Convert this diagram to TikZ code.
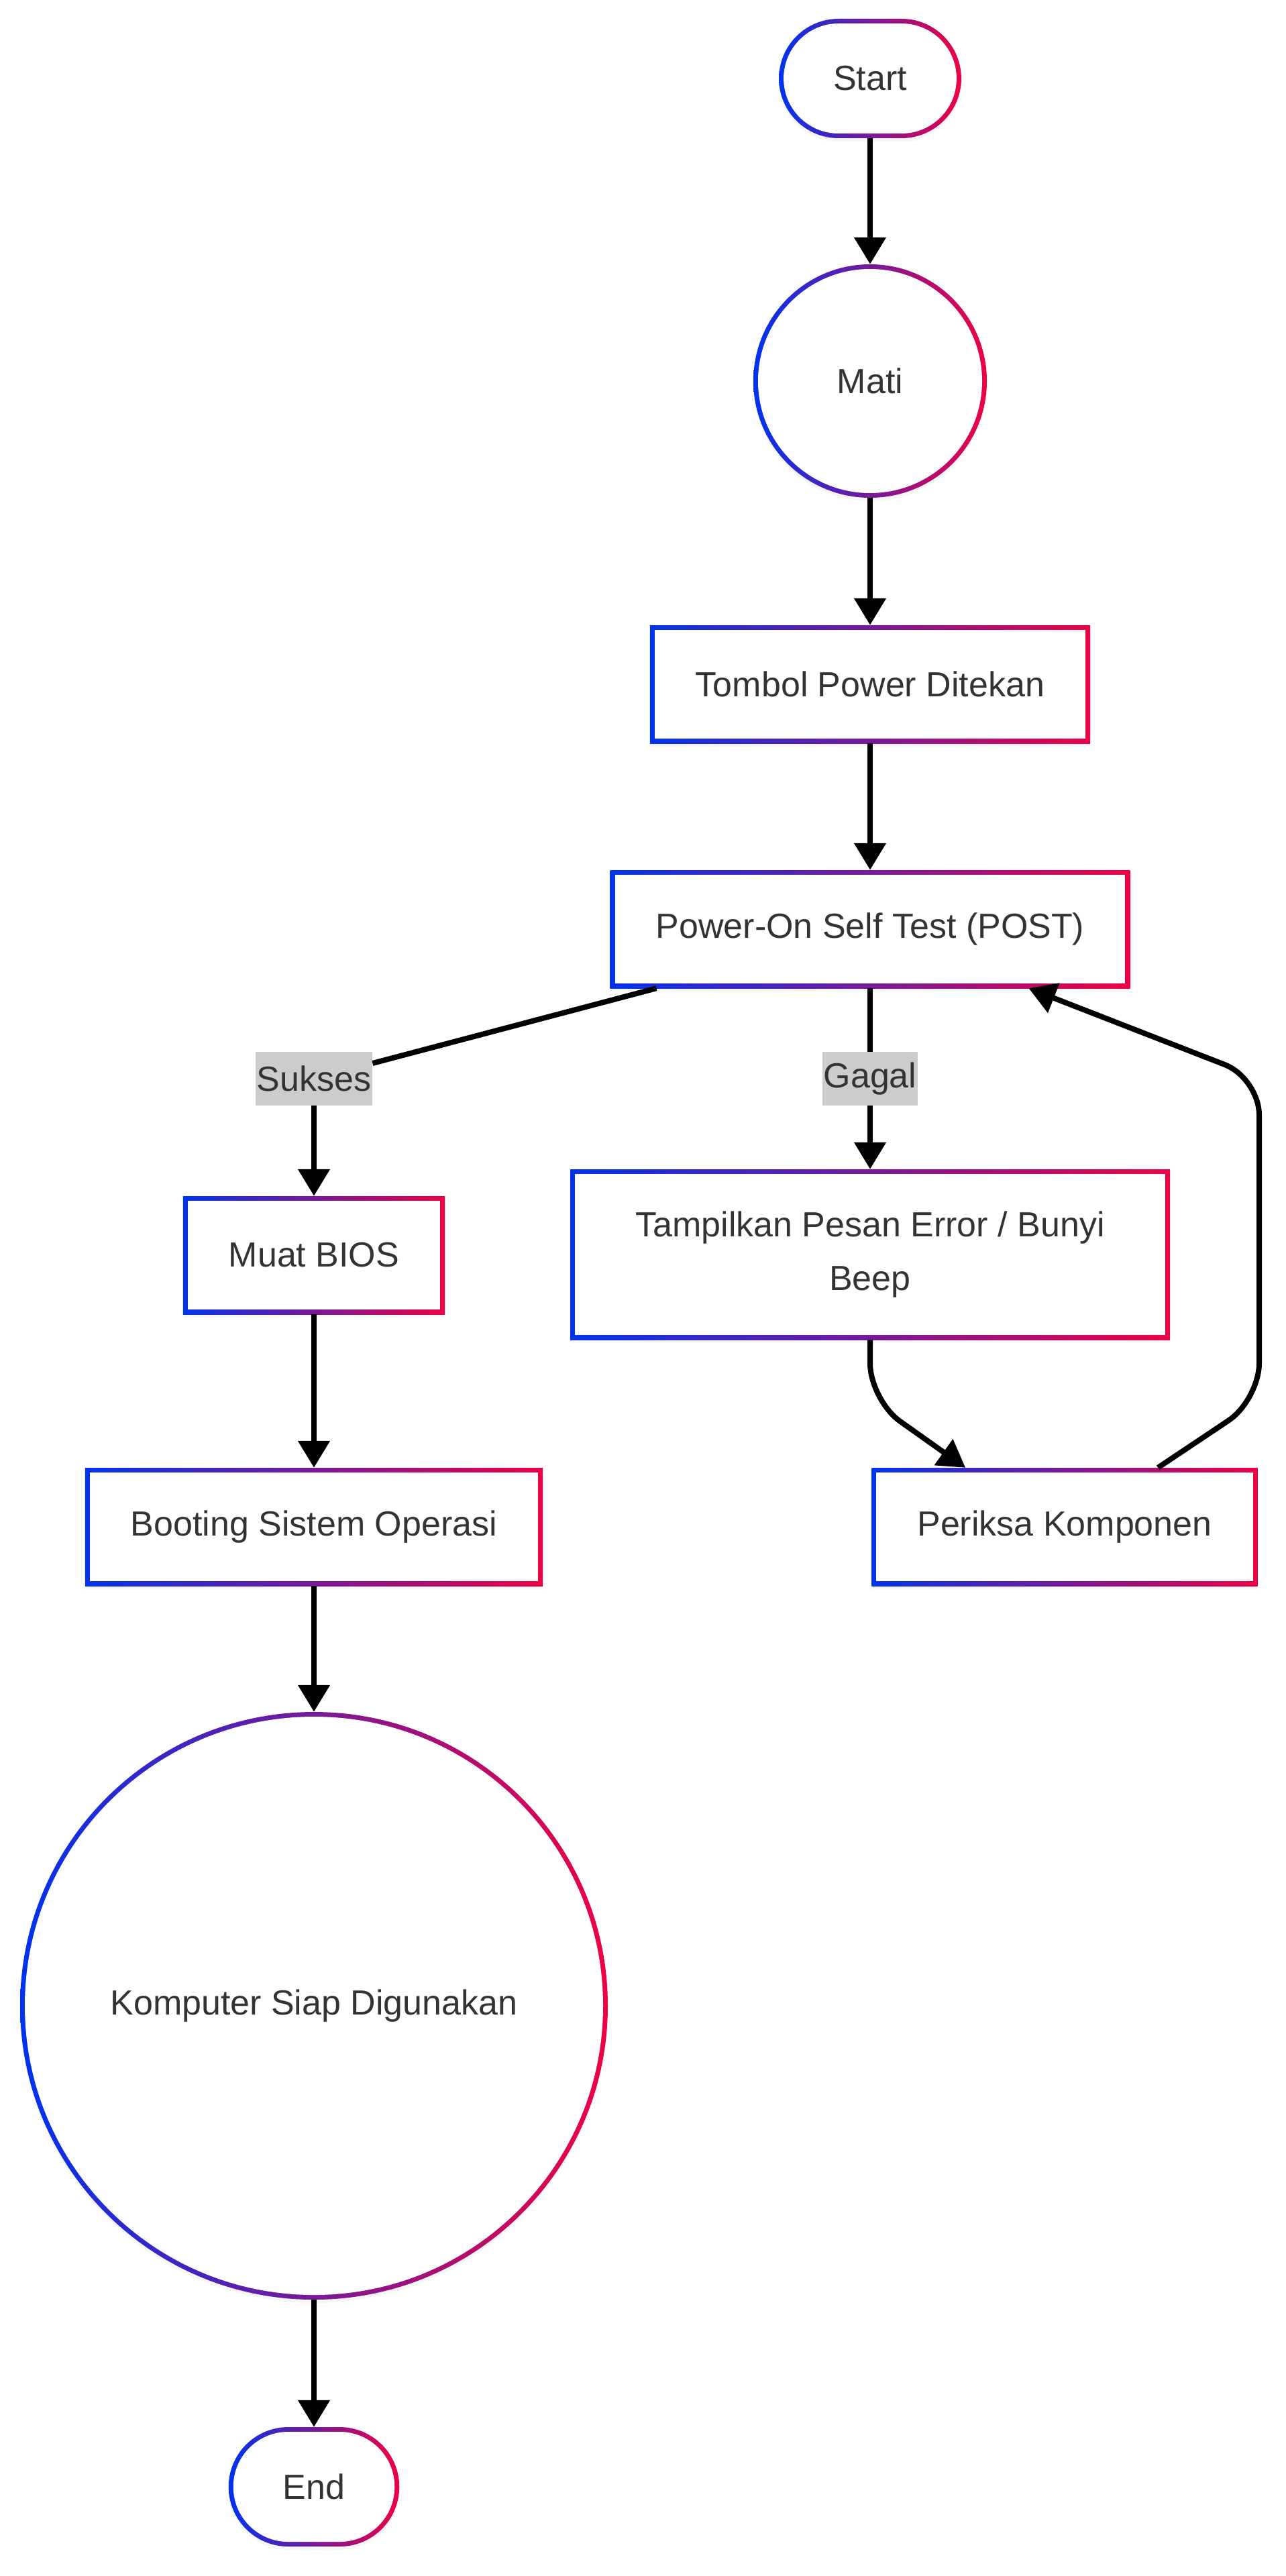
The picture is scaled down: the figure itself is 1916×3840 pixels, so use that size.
\documentclass[tikz,border=0pt]{standalone}
\usepackage{fontspec}
\setmainfont{Liberation Sans}
\usetikzlibrary{arrows.meta,shadows}
\definecolor{gblue}{HTML}{0033EE}
\definecolor{gred}{HTML}{EE0044}
\definecolor{ink}{HTML}{333333}
\definecolor{tagfill}{HTML}{CCCCCC}
\tikzset{
  gradnode/.style={shade,left color=gblue,right color=gred,text=ink,
    font=\fontsize{52}{80}\selectfont,
    drop shadow={shadow xshift=0pt,shadow yshift=-5pt,opacity=0.07}},
  procbox/.style={gradnode,rectangle,inner xsep=68pt,inner ysep=0pt,minimum height=176pt,
    path picture={\fill[white] ([shift={(7pt,-7pt)}]path picture bounding box.north west)
      rectangle ([shift={(-7pt,7pt)}]path picture bounding box.south east);}},
  termnode/.style={gradnode,rectangle,rounded corners=89pt,inner xsep=81pt,inner ysep=0pt,
    minimum height=178pt,
    path picture={\fill[white,rounded corners=82pt] ([shift={(7pt,-7pt)}]path picture bounding box.north west)
      rectangle ([shift={(-7pt,7pt)}]path picture bounding box.south east);}},
  statecirc/.style={gradnode,circle,inner sep=0pt,minimum size=2*#1,
    path picture={\fill[white] (path picture bounding box.center) circle[radius=#1-7pt];}},
  edgetag/.style={fill=tagfill,text=ink,font=\fontsize{52}{80}\selectfont,
    inner xsep=2pt,inner ysep=0pt,minimum height=80pt},
  plainline/.style={draw=black,line width=8pt},
  flow/.style={plainline,-{Triangle[length=40pt,width=46pt]}}
}
\begin{document}
\begin{tikzpicture}[x=1pt,y=-1pt]
      \path[use as bounding box,fill=white] (0,0) rectangle (1916,3840);
      % main column
      \node[termnode] (start) at (1297,117) {Start};
      \node[statecirc=174pt] (mati) at (1297,568) {Mati};
      \node[procbox] (tombol) at (1297,1020) {Tombol Power Ditekan};
      \node[procbox] (post) at (1297,1385) {Power-On Self Test (POST)};
      % success branch
      \node[procbox] (muat) at (468,1871) {Muat BIOS};
      \node[procbox] (booting) at (468,2276) {Booting Sistem Operasi};
      \node[statecirc=438pt] (komputer) at (468,2990) {Komputer Siap Digunakan};
      \node[termnode] (end) at (468,3707) {End};
      % failure branch
      \node[procbox,minimum width=894pt,minimum height=254pt,align=center] (error) at (1297,1870)
        {Tampilkan Pesan Error / Bunyi\\Beep};
      \node[procbox] (periksa) at (1587,2276) {Periksa Komponen};
      % edge labels
      \node[edgetag] (sukses) at (468,1608) {Sukses};
      \node[edgetag] (gagal) at (1297,1608) {Gagal};
      % bend points
      \coordinate (bendA) at (1297,2087);
      \coordinate (loopA) at (1877,2087);
      \coordinate (loopB) at (1877,1607);
      % connectors
      \draw[flow] (start) -- (mati);
      \draw[flow] (mati) -- (tombol);
      \draw[flow] (tombol) -- (post);
      \draw[plainline] ([xshift=69pt]post.south west) -- (sukses);
      \draw[flow] (sukses) -- (muat);
      \draw[plainline] (post) -- (gagal);
      \draw[flow] (gagal) -- (error);
      \draw[flow,rounded corners=55pt] (error.south) -- (bendA) -- ([xshift=140pt]periksa.north west);
      \draw[flow,rounded corners=55pt] ([xshift=427pt]periksa.north west) -- (loopA) -- (loopB)
        -- ([xshift=-151pt]post.south east);
      \draw[flow] (muat) -- (booting);
      \draw[flow] (booting) -- (komputer);
      \draw[flow] (komputer) -- (end);
    \end{tikzpicture}
\end{document}
